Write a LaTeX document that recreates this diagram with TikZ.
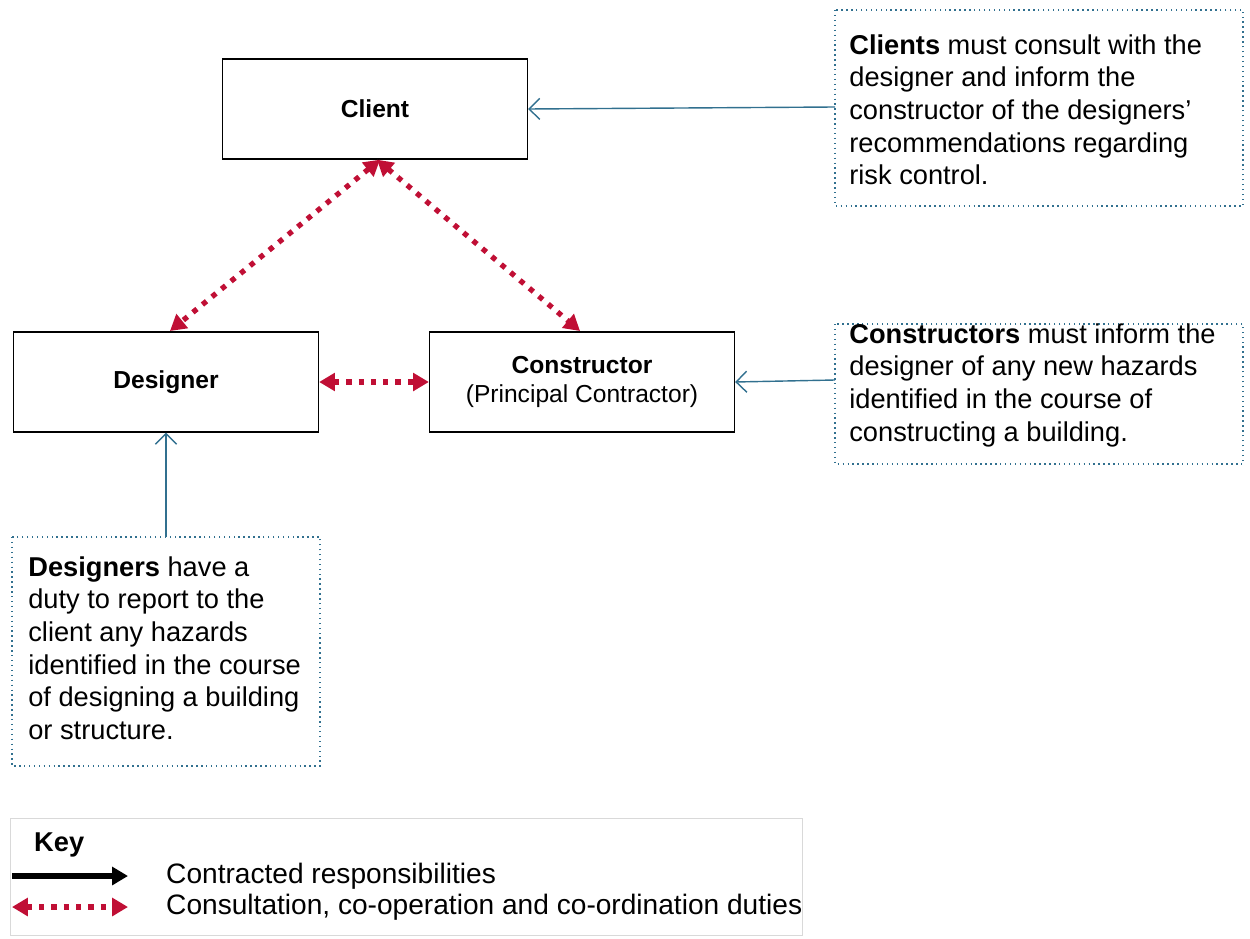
\documentclass[tikz,border=0pt]{standalone}
\usepackage{fontspec}
\setmainfont{Liberation Sans}
\usetikzlibrary{positioning,arrows.meta}
\definecolor{noteblue}{HTML}{31708F}
\definecolor{dutyred}{HTML}{C00F35}
\tikzset{main node/.style={draw,thick,minimum width=6.1cm,minimum height=2cm,align=center,font=\fontsize{14}{17}\selectfont},
note node/.style={inner sep=0pt,align=left,font=\fontsize{15.5}{18.6}\selectfont},
duty/.style={dutyred,line width=3pt,dash pattern=on 3pt off 4pt,{Triangle[length=9pt,width=10pt]}-{Triangle[length=9pt,width=10pt]}},
tell/.style={noteblue,thick,->,>={Straight Barb[length=6pt,width=12pt]}}}
\begin{document}
\begin{tikzpicture}[x=0.02cm,y=-0.02cm]
    \useasboundingbox (0,0) rectangle (1250,939);
    \node[main node] (client) at (375,109) {\textbf{Client}};
    \node[main node] (designer) at (166,382) {\textbf{Designer}};
    \node[main node] (constructor) at (582,382) {\textbf{Constructor}\\(Principal Contractor)};

    \draw[noteblue,thick,dotted] (835,10) rectangle (1243,206);
    \node[note node,anchor=north west] (clientnote) at (849,34) {\textbf{Clients} must consult with the\\designer and inform the\\constructor of the designers'\\recommendations regarding\\risk control.};
    \draw[noteblue,thick,dotted] (835,324) rectangle (1243,464);
    \node[note node,anchor=north west] (constructornote) at (849,323) {\textbf{Constructors} must inform the\\designer of any new hazards\\identified in the course of\\constructing a building.};
    \draw[noteblue,thick,dotted] (12,537) rectangle (320,766);
    \node[note node,anchor=north west] (designernote) at (28,556) {\textbf{Designers} have a\\duty to report to the\\client any hazards\\identified in the course\\of designing a building\\or structure.};

    \coordinate (cn) at (835,107);
    \coordinate (kn) at (835,380);
    \coordinate (dn) at (166,537);
    \draw[tell] (cn) -- (client.east);
    \draw[tell] (kn) -- (constructor.east);
    \draw[tell] (dn) -- (designer.south);

    \draw[duty] (client.south) ++(5,0) -- (170,331);
    \draw[duty] (client.south) ++(2,0) -- (580,331);
    \draw[duty] (designer.east) -- (constructor.west);

    % key
    \draw[black!15] (10,818) rectangle (802,935);
    \node[anchor=west,font=\fontsize{15.5}{17}\selectfont\bfseries] (key) at (28,845) {Key};
    \coordinate (k1) at (12,876);
    \coordinate (k2) at (128,876);
    \coordinate (k3) at (12,907);
    \coordinate (k4) at (128,907);
    \draw[line width=3pt,-{Triangle[length=9pt,width=10pt]}] (k1) -- (k2);
    \draw[duty] (k3) -- (k4);
    \node[anchor=west,font=\fontsize{16}{17}\selectfont] at (160,876) {Contracted responsibilities};
    \node[anchor=west,font=\fontsize{16}{17}\selectfont] at (160,907) {Consultation, co-operation and co-ordination duties};
\end{tikzpicture}
\end{document}
